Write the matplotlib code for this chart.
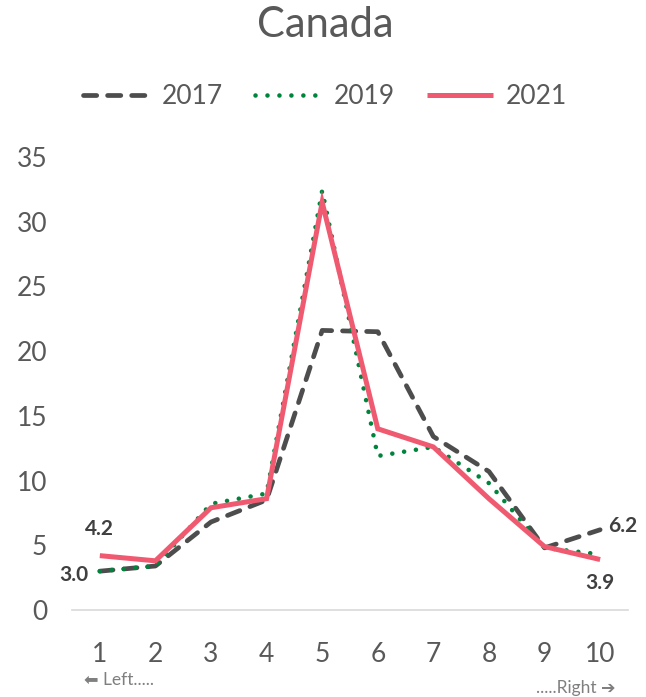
import matplotlib.pyplot as plt

plt.rcParams['font.family'] = ['Lato', 'DejaVu Sans']

x = [1, 2, 3, 4, 5, 6, 7, 8, 9, 10]
y2017 = [3.0, 3.4, 6.8, 8.5, 21.6, 21.5, 13.4, 10.7, 4.8, 6.2]
y2019 = [3.0, 3.4, 8.2, 9.0, 32.4, 11.9, 12.6, 9.8, 4.8, 4.3]
y2021 = [4.2, 3.8, 7.9, 8.6, 31.5, 14.0, 12.6, 8.6, 4.9, 3.9]
labels = ['2017', '2019', '2021']
txt = '#595959'

fig = plt.figure(figsize=(6.46, 6.97), dpi=100)
ax = fig.add_axes([0.1115, 0.1248, 0.8605, 0.65])

ax.plot(x, y2017, color='#4d4d4d', lw=3.4, ls=(0, (2.8, 2.3)), dash_capstyle='round',
        solid_joinstyle='round', label=labels[0], zorder=2)
ax.plot(x, y2019, color='#00843d', lw=3.3, ls=(0, (0.01, 2.6)), dash_capstyle='round',
        label=labels[1], zorder=3)
ax.plot(x, y2021, color='#f05a70', lw=3.6, solid_capstyle='butt', solid_joinstyle='miter',
        label=labels[2], zorder=4)

ax.set_xlim(0.5, 10.5)
ax.set_ylim(0, 35)
ax.set_xticks(x)
ax.set_yticks([0, 5, 10, 15, 20, 25, 30, 35])
ax.tick_params(length=0, labelsize=19, colors=txt)
ax.tick_params(axis='x', pad=23)
ax.tick_params(axis='y', pad=18)
for s in ['top', 'right', 'left']:
    ax.spines[s].set_visible(False)
ax.spines['bottom'].set_color('#d9d9d9')
ax.spines['bottom'].set_linewidth(1.2)

# data labels
ax.annotate('3.0', (x[0], y2017[0]), xytext=(-8, -3), textcoords='offset points',
            ha='right', va='center', fontsize=15, fontweight='bold', color='#404040')
ax.annotate('4.2', (x[0], y2021[0]), xytext=(0, 12), textcoords='offset points',
            ha='center', va='bottom', fontsize=15, fontweight='bold', color='#404040')
ax.annotate('6.2', (x[9], y2017[9]), xytext=(6, 3), textcoords='offset points',
            ha='left', va='center', fontsize=15, fontweight='bold', color='#404040')
ax.annotate('3.9', (x[9], y2021[9]), xytext=(0, -10), textcoords='offset points',
            ha='center', va='top', fontsize=15, fontweight='bold', color='#404040')

fig.text(0.503, 0.964, 'Canada', ha='center', va='center', fontsize=30, color=txt)
leg = fig.legend(loc='center', bbox_to_anchor=(0.503, 0.861), ncol=3, frameon=False,
                 fontsize=19, handlelength=2.5, columnspacing=1.2, handletextpad=0.5)
for t in leg.get_texts():
    t.set_color(txt)

fig.text(0.13, 0.025, '⬅ Left.....', ha='left', va='center', fontsize=12.5, color='#7f7f7f')
fig.text(0.953, 0.013, '.....Right ➔', ha='right', va='center', fontsize=12.5, color='#7f7f7f')

fig.savefig('out.png', dpi=100)
